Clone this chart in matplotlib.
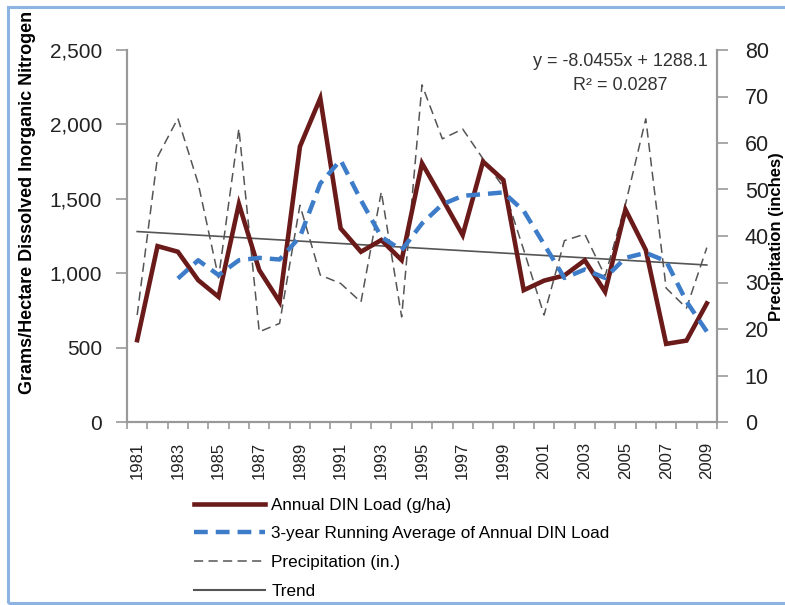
import numpy as np
import matplotlib
matplotlib.use("Agg")
import matplotlib.pyplot as plt
from matplotlib.lines import Line2D
from matplotlib.patches import Rectangle

plt.rcParams['font.family'] = ['Liberation Sans', 'DejaVu Sans']

years = list(range(1981, 2010))
din_load = [550, 1182, 1144, 953, 841, 1465, 1021, 808, 1851, 2176,
            1301, 1144, 1223, 1088, 1739, 1500, 1256, 1750, 1626, 886,
            950, 985, 1087, 875, 1428, 1156, 525, 547, 797]
# 3-year running average starts in 1983
run_avg_years = list(range(1983, 2010))
run_avg = [964, 1087, 987, 1087, 1103, 1092, 1244, 1603, 1760, 1490,
           1244, 1155, 1334, 1463, 1520, 1531, 1543, 1419, 1194, 968,
           1025, 968, 1103, 1137, 1081, 810, 608]
precip = [23, 57, 65.3, 51.3, 31, 63.1, 19.4, 21.2, 46.6, 31.6,
          29.8, 25.8, 49.5, 22.6, 72.5, 60.9, 63, 56.6, 50.5, 37,
          23, 39, 40.4, 31.4, 46.8, 65.2, 28.8, 24.5, 37.5]
trend_years = [1981, 2009]
trend_vals = [1280, 1055]

RED = '#6b1a1a'
BLUE = '#3d7cc9'
blue_dash = (0, (3.1, 1.8))
gray_dash = (0, (6, 3.5))

fig = plt.figure(figsize=(7.85, 6.05), dpi=100)
ax = fig.add_axes([127 / 785, 1 - 422 / 605, 590 / 785, 372 / 605])
ax2 = ax.twinx()

xi = np.arange(len(years))
xr = np.array([years.index(y) for y in run_avg_years])
xt = np.array([years.index(y) for y in trend_years])

ax2.plot(xi, precip, color='#555555', lw=1.1, ls=gray_dash, zorder=1)
ax.plot(xt, trend_vals, color='#555555', lw=1.2, zorder=2)
ax.plot(xi, din_load, color=RED, lw=3.3, solid_joinstyle='miter', zorder=3)
ax.plot(xr, run_avg, color=BLUE, lw=3.2, ls=blue_dash, zorder=4)
ax.set_zorder(ax2.get_zorder() + 1)
ax.patch.set_visible(False)

ax.set_xlim(-0.5, len(years) - 0.5)
ax.set_ylim(0, 2500)
ax2.set_ylim(0, 80)

ax.set_yticks(range(0, 2501, 500))
ax.set_yticklabels([f"{v:,}" for v in range(0, 2501, 500)])
ax2.set_yticks(range(0, 81, 10))

# ticks at year boundaries, labels at every second year centre
ax.set_xticks(np.arange(-0.5, len(years), 1.0))
ax.set_xticklabels([])
ax.set_xticks(xi[::2], minor=True)
ax.set_xticklabels([str(y) for y in years[::2]], minor=True, rotation=90)
ax.tick_params(axis='x', which='major', length=5, color='#999999', width=1.2)
ax.tick_params(axis='x', which='minor', length=0, pad=14, labelsize=12, labelcolor='#222222')
ax.tick_params(axis='y', length=8, color='#999999', width=1.2, labelsize=15, pad=10, labelcolor='#222222')
ax2.tick_params(axis='y', length=8, color='#999999', width=1.2, labelsize=15.5, pad=12, labelcolor='#222222')

for a in (ax, ax2):
    a.spines['top'].set_visible(False)
    for s in ('left', 'right', 'bottom'):
        a.spines[s].set_color('#999999')
        a.spines[s].set_linewidth(1.5)

fig.text(28 / 785, 1 - 202 / 605, 'Grams/Hectare Dissolved Inorganic Nitrogen',
         rotation=90, ha='center', va='center', fontsize=13, fontweight='bold')
fig.text(777 / 785, 1 - 237 / 605, 'Precipitation (inches)',
         rotation=90, ha='center', va='center', fontsize=12, fontweight='bold')

fig.text(620 / 785, 1 - 61 / 605, 'y = -8.0455x + 1288.1', ha='center', va='center',
         fontsize=13, color='#333333')
fig.text(620 / 785, 1 - 86 / 605, 'R² = 0.0287', ha='center', va='center',
         fontsize=13, color='#333333')

handles = [
    Line2D([], [], color=RED, lw=3.3),
    Line2D([], [], color=BLUE, lw=3.2, ls=blue_dash),
    Line2D([], [], color='#555555', lw=1.1, ls=gray_dash),
    Line2D([], [], color='#555555', lw=1.5),
]
labels = ['Annual DIN Load (g/ha)', '3-year Running Average of Annual DIN Load',
          'Precipitation (in.)', 'Trend']
fig.legend(handles, labels, loc='upper left', bbox_to_anchor=(185 / 785, 1 - 489 / 605),
           frameon=False, borderpad=0, handlelength=4.2, handletextpad=0.35,
           labelspacing=0.8, prop={'size': 12.3})

fig.patches.append(Rectangle((8 / 785, 1 - 603 / 605), 790 / 785, 596 / 605,
                             transform=fig.transFigure, fill=False,
                             edgecolor='#8db3e2', lw=2.2))

fig.savefig('out.png', dpi=100)
